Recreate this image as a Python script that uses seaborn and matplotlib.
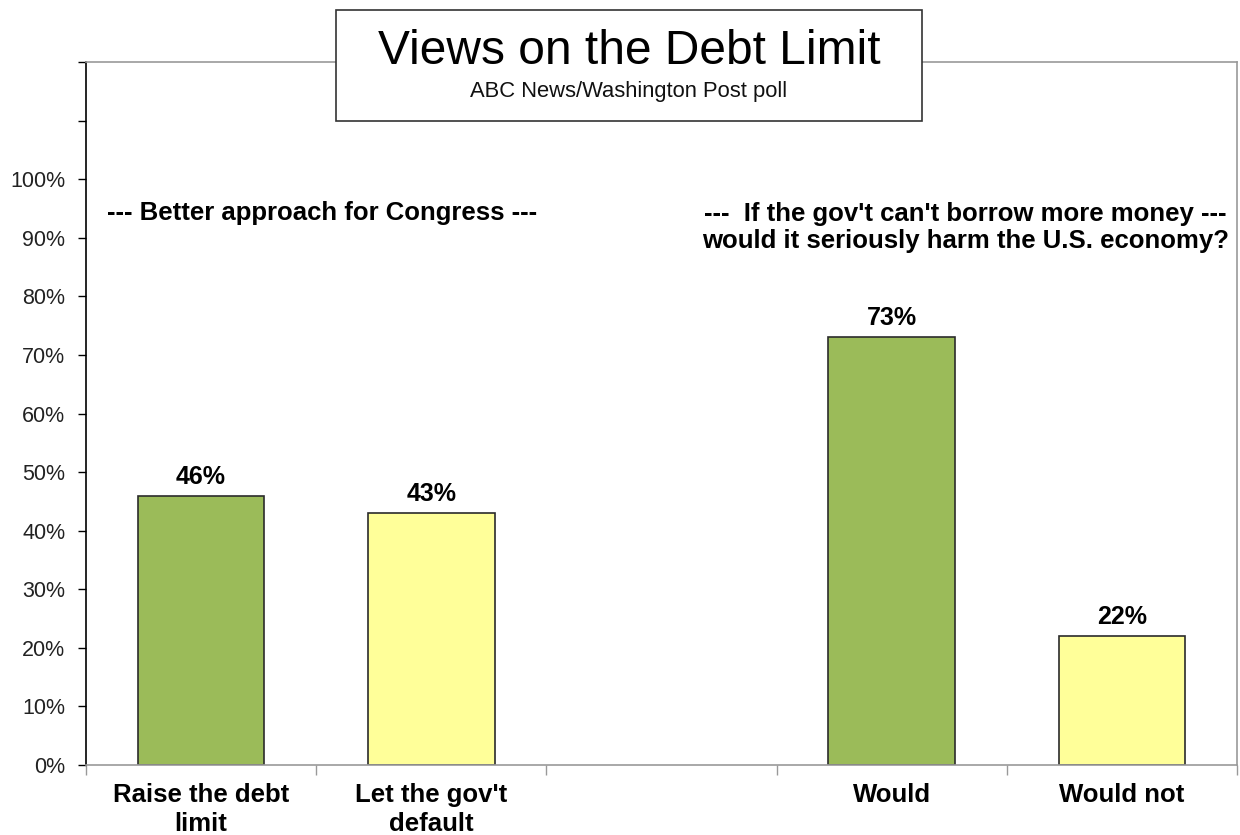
import matplotlib
matplotlib.use("Agg")
import matplotlib.pyplot as plt
from matplotlib.patches import Rectangle
from matplotlib.ticker import FixedLocator
import seaborn as sns
import pandas as pd

# ---- data ----
categories = ["Raise the debt\nlimit", "Let the gov't\ndefault", "Would", "Would not"]
values = [46, 43, 73, 22]
bar_colors = ["#9BBB59", "#FFFF99", "#9BBB59", "#FFFF99"]
slot_order = [categories[0], categories[1], "", categories[2], categories[3]]
ytick_vals = [0, 10, 20, 30, 40, 50, 60, 70, 80, 90, 100, 110, 120]
ytick_labels = ["0%", "10%", "20%", "30%", "40%", "50%", "60%", "70%", "80%",
                "90%", "100%", "", ""]
title = "Views on the Debt Limit"
subtitle = "ABC News/Washington Post poll"
left_note = "--- Better approach for Congress ---"
right_note = "---  If the gov't can't borrow more money ---\nwould it seriously harm the U.S. economy?"

sns.set_theme(style="white")
plt.rcParams["font.family"] = ["Liberation Sans", "DejaVu Sans"]

df = pd.DataFrame({"label": categories, "value": values})
palette = dict(zip(categories, bar_colors))

fig = plt.figure(figsize=(12.4, 8.35), dpi=100)
ax = fig.add_axes([86 / 1240, 1 - 765 / 835, (1237 - 86) / 1240, (765 - 62) / 835])

sns.barplot(data=df, x="label", y="value", hue="label", order=slot_order,
            hue_order=categories, palette=palette, width=0.55,
            edgecolor="#2b2b2b", linewidth=1.2, legend=False, ax=ax,
            saturation=1)

for c in ax.containers:
    ax.bar_label(c, labels=[f"{b.get_height():.0f}%" for b in c], padding=5,
                 fontsize=18, fontweight="bold", color="black")

ax.set_xlim(-0.5, 4.5)
ax.set_ylim(0, 120)
ax.set_yticks(ytick_vals)
ax.set_yticklabels(ytick_labels, fontsize=15.5, color="#222222")
ax.tick_params(axis="y", direction="out", length=6, width=1, color="black", left=True, pad=9)

ax.set_xticks(range(len(slot_order)))
ax.set_xticklabels(slot_order, fontsize=18.5, fontweight="bold", color="black", linespacing=1.25)
ax.tick_params(axis="x", which="major", length=0, pad=13, bottom=True)
ax.xaxis.set_minor_locator(FixedLocator([i - 0.5 for i in range(len(slot_order) + 1)]))
ax.tick_params(axis="x", which="minor", direction="out", length=7, width=1,
               color="#999999", bottom=True)

ax.set_xlabel("")
ax.set_ylabel("")

for s in ["top", "right", "bottom"]:
    ax.spines[s].set_color("#999999")
    ax.spines[s].set_linewidth(1.2)
    ax.spines[s].set_visible(True)
ax.spines["left"].set_color("black")
ax.spines["left"].set_linewidth(1.2)

ax.text(0.524, 94.2, left_note, ha="center", va="center", fontsize=18.5,
        fontweight="bold", color="black")
ax.text(3.32, 91.8, right_note, ha="center", va="center", fontsize=18.5,
        fontweight="bold", color="black", linespacing=1.15)

# title box
box = Rectangle((336 / 1240, 1 - 121 / 835), 586 / 1240, 111 / 835,
                transform=fig.transFigure, facecolor="white", edgecolor="#333333",
                linewidth=1.2, zorder=5)
fig.patches.append(box)
fig.text(629 / 1240, 1 - 51 / 835, title, ha="center", va="center", fontsize=34.5,
         color="black", zorder=6)
fig.text(629 / 1240, 1 - 92 / 835, subtitle, ha="center", va="center", fontsize=15.8,
         color="#111111", zorder=6)

fig.savefig("out.png", dpi=100)
